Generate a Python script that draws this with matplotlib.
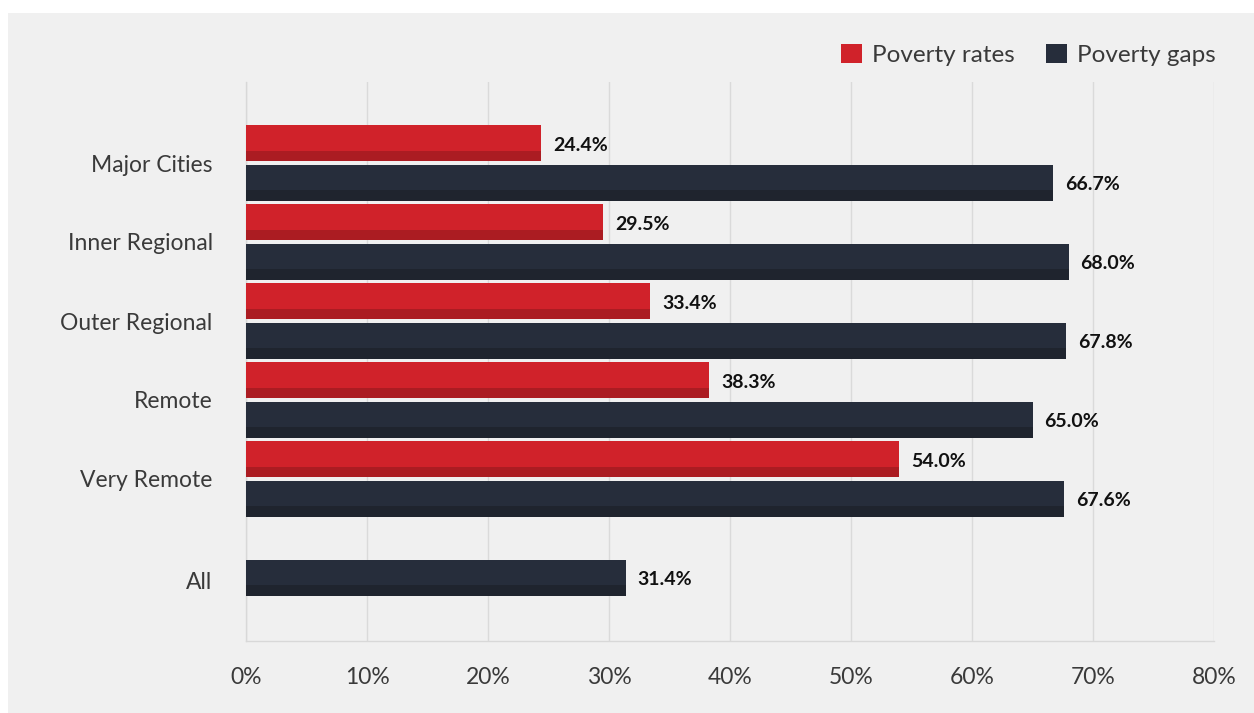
import matplotlib
matplotlib.use("Agg")
import matplotlib.pyplot as plt
from matplotlib.patches import Rectangle, Patch
import numpy as np

# data
categories = ["Major Cities", "Inner Regional", "Outer Regional", "Remote", "Very Remote", "All"]
poverty_rates = [24.4, 29.5, 33.4, 38.3, 54.0, 0.0]
poverty_gaps = [66.7, 68.0, 67.8, 65.0, 67.6, 31.4]
xticks = [0, 10, 20, 30, 40, 50, 60, 70, 80]

red, red_dark = "#d0222a", "#ab1c22"
navy, navy_dark = "#262d3b", "#1f242e"
txt = "#3a3a3a"

plt.rcParams["font.family"] = ["Lato", "DejaVu Sans"]

W, H = 1254, 713
fig = plt.figure(figsize=(W / 100, H / 100), dpi=100)
fig.patch.set_facecolor("white")
fig.patches.append(Rectangle((8 / W, 0), 1 - 8 / W, 1 - 13 / H, transform=fig.transFigure,
                             facecolor="#f0f0f0", edgecolor="none", zorder=-10))

ax = fig.add_axes([246 / W, 1 - 641 / H, (1214 - 246) / W, (641 - 82) / H])
ax.set_facecolor("none")

y = np.arange(len(categories), dtype=float)
h = 0.45
off = 0.25
strip = 0.13

def two_tone(ypos, vals, c_main, c_dark):
    ax.barh(ypos, vals, height=h, color=c_main, zorder=3)
    # darker strip along the bottom edge of each bar
    ax.barh(ypos + h / 2 - strip / 2, vals, height=strip, color=c_dark, zorder=4)

two_tone(y - off, poverty_rates, red, red_dark)
two_tone(y + off, poverty_gaps, navy, navy_dark)

for yy, v in zip(y - off, poverty_rates):
    if v > 0:
        ax.annotate(f"{v:.1f}%", (v, yy), xytext=(8.5, -1.5), textcoords="offset points",
                    ha="left", va="center", fontsize=14, fontweight="bold", color="#111111")
for yy, v in zip(y + off, poverty_gaps):
    ax.annotate(f"{v:.1f}%", (v, yy), xytext=(8.5, -1.5), textcoords="offset points",
                ha="left", va="center", fontsize=14, fontweight="bold", color="#111111")

# "All" has no rate bar, so its label sits on the gap bar
tick_pos = list(y[:-1]) + [y[-1] + off + 0.03]
ax.set_yticks(tick_pos)
ax.set_yticklabels(categories, fontsize=16.5, color=txt)
ax.set_xticks(xticks)
ax.set_xticklabels([f"{t}%" for t in xticks], fontsize=16.5, color=txt)
ax.tick_params(axis="y", length=0, pad=24)
ax.tick_params(axis="x", length=0, pad=19)

ax.set_xlim(0, 80)
ax.set_ylim((641 - 163) / 79, (82 - 163) / 79)

ax.grid(axis="x", color="#dadada", linewidth=1, zorder=0)
for s in ["top", "right"]:
    ax.spines[s].set_visible(False)
for s in ["left", "bottom"]:
    ax.spines[s].set_color("#d8d8d8")
    ax.spines[s].set_linewidth(1)

handles = [Patch(facecolor=red, edgecolor="none", label="Poverty rates"),
           Patch(facecolor=navy, edgecolor="none", label="Poverty gaps")]
leg = fig.legend(handles=handles, loc="center right", bbox_to_anchor=(1216 / W, 1 - 55 / H),
                 ncol=2, frameon=False, fontsize=17.5, handlelength=0.86, handleheight=0.86,
                 handletextpad=0.42, columnspacing=1.3, borderpad=0, borderaxespad=0)
for t in leg.get_texts():
    t.set_color(txt)

fig.savefig("out.png", dpi=100)
